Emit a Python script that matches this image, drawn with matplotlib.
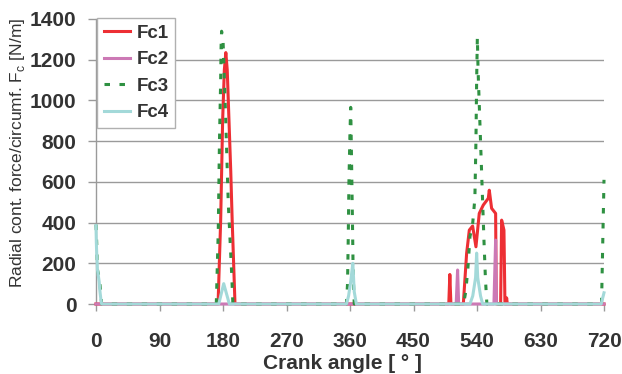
import matplotlib
matplotlib.use("Agg")
import matplotlib.pyplot as plt

# contact force per circumference over one engine cycle (crank angle in deg, force in N/m)
fc1_angle = [0, 173, 176.7, 179.5, 181.9, 184, 186, 188.5, 191, 193, 197,
             500, 501.5, 503, 520.6, 525.3, 529.1, 533.8, 538.5, 543.2, 548.9,
             556, 557.4, 560.7, 566.4, 567.3, 573.5, 574.9, 578.2, 579.6, 581, 582, 583, 720]
fc1_force = [0, 0, 412, 904, 1150, 1235, 1150, 900, 650, 412, 0,
             0, 145, 0, 0, 249, 363, 383, 281, 445, 486,
             519, 559, 470, 445, 0, 0, 412, 363, 0, 0, 30, 0, 0]

fc2_angle = [0, 510.5, 512.5, 514, 564, 566.4, 567.5, 720]
fc2_force = [0, 0, 167, 0, 0, 314, 0, 0]

fc3_angle = [0, 1, 2, 5, 8,
             170.5, 173.3, 174, 175, 176.7, 177.3, 178, 180, 183, 187.5, 192.3, 194,
             355, 356.5, 357.5, 358.5, 360, 361, 362, 363.5, 364.5, 366,
             521, 524, 527, 530, 534, 537, 538.5, 539.5, 540.5, 541.5, 543, 545.5, 548, 550, 552, 554,
             716.5, 720]
fc3_force = [390, 300, 170, 120, 0,
             0, 363, 543, 800, 1100, 1264, 1340, 1300, 1000, 494, 150, 0,
             0, 100, 320, 600, 850, 966, 750, 400, 150, 0,
             0, 60, 170, 330, 400, 520, 800, 1100, 1310, 1150, 1000, 750, 500, 300, 120, 0,
             0, 610]

fc4_angle = [0, 0.5, 1, 1.5, 2, 4.5, 5.5, 7, 8,
             174, 181, 189,
             355, 358, 361, 364, 366, 369,
             530, 534, 538, 539.5, 541, 545, 548,
             716, 720]
fc4_force = [385, 300, 250, 220, 170, 110, 65, 20, 0,
             0, 100, 0,
             0, 40, 110, 200, 60, 0,
             0, 40, 130, 250, 130, 40, 0,
             0, 55]

x_ticks = list(range(0, 721, 90))
y_ticks = list(range(0, 1401, 200))

plt.rcParams['font.family'] = ['Liberation Sans', 'DejaVu Sans']
txt = '#333333'
grey = '#9a9a9a'

fig = plt.figure(figsize=(6.22, 3.74), dpi=100)
ax = fig.add_axes([96 / 622, 1 - 304 / 374, 508 / 622, 285 / 374])

ax.plot(fc1_angle, fc1_force, color='#ed2f34', lw=2.2, label='Fc1', clip_on=False, zorder=3)
ax.plot(fc2_angle, fc2_force, color='#cc79b5', lw=2.2, label='Fc2', clip_on=False, zorder=3)
ax.plot(fc3_angle, fc3_force, color='#2f9142', lw=2.2, ls=(0, (1.8, 3.1)),
        dash_capstyle='butt', label='Fc3', clip_on=False, zorder=3)
ax.plot(fc4_angle, fc4_force, color='#a3d9d9', lw=2.2, label='Fc4', clip_on=False, zorder=3)

ax.set_xlim(0, 720)
ax.set_ylim(0, 1400)
ax.set_xticks(x_ticks)
ax.set_yticks(y_ticks)

ax.yaxis.grid(True, color=grey, lw=1)
ax.yaxis.get_gridlines()[-1].set_visible(False)
ax.yaxis.get_gridlines()[0].set_visible(False)
ax.set_axisbelow(True)

for s in ['top', 'right']:
    ax.spines[s].set_visible(False)
for s in ['left', 'bottom']:
    ax.spines[s].set_color(grey)
    ax.spines[s].set_linewidth(1)

ax.tick_params(axis='y', direction='out', length=6, width=1, color=grey, pad=8,
               labelsize=15, labelcolor=txt)
ax.tick_params(axis='x', direction='out', length=5, width=1, color=grey, pad=15,
               labelsize=15, labelcolor=txt)
for lab in ax.get_xticklabels() + ax.get_yticklabels():
    lab.set_fontweight('bold')

ax.set_xlabel('Crank angle [ ° ]', fontsize=15, fontweight='bold', color=txt)
ax.xaxis.set_label_coords(0.485, -0.175)
ax.set_ylabel(r'Radial cont. force/circumf. F$_{\mathregular{c}}$ [N/m]', fontsize=12.5, color=txt)
ax.yaxis.set_label_coords(-0.135, 0.53)

leg = ax.legend(loc='upper left', bbox_to_anchor=(97 / 622, 1 - 18 / 374),
                bbox_transform=fig.transFigure, borderaxespad=0,
                prop={'weight': 'bold', 'size': 13.5}, labelcolor=txt,
                handlelength=1.4, handletextpad=0.35, labelspacing=0.5,
                borderpad=0.35, fancybox=False, framealpha=1)
leg.get_frame().set_edgecolor('#b0b0b0')
leg.get_frame().set_linewidth(1)

fig.savefig('out.png', dpi=100)
